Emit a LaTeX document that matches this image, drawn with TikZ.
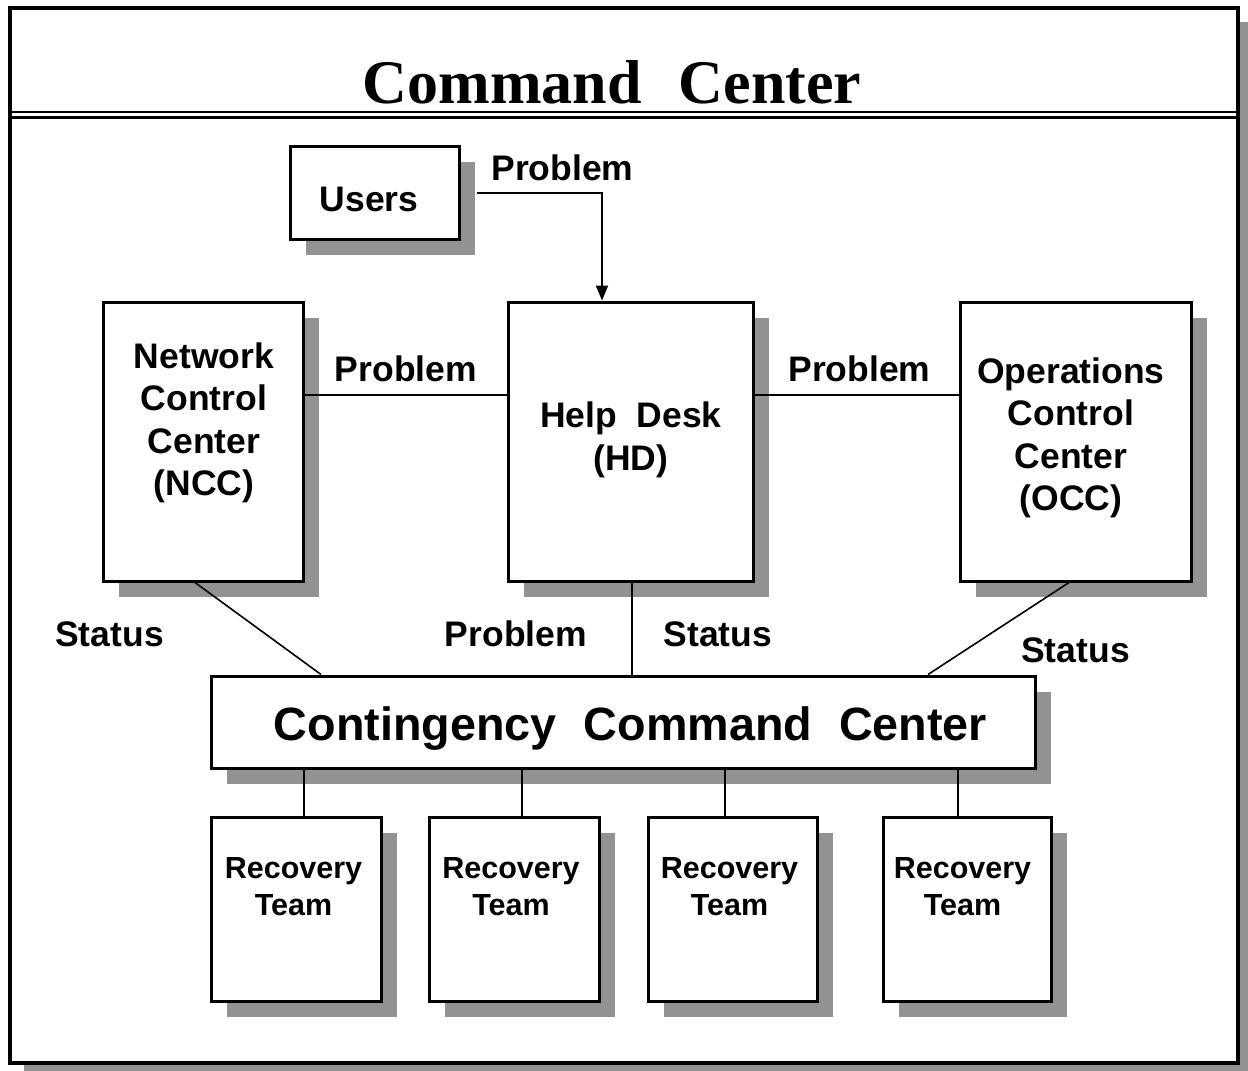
\documentclass[tikz,border=0pt]{standalone}
\usepackage{fontspec}
\setmainfont{Liberation Sans}
\newfontfamily\titlefont{Liberation Serif}
\usetikzlibrary{shadows,fit,arrows.meta}
\definecolor{shadowgray}{RGB}{146,146,146}
\begin{document}
\begin{tikzpicture}[x=1pt,y=-1pt,
  box/.style={draw, line width=3pt, fill=white, inner sep=0pt,
    drop shadow={shadow xshift=16pt, shadow yshift=-16pt, fill=shadowgray, opacity=1}},
  lbl/.style={font=\bfseries\fontsize{35.5}{42.5}\selectfont, inner sep=0pt, align=center},
  rtlbl/.style={font=\bfseries\fontsize{30.5}{37}\selectfont, inner sep=0pt, align=center},
  conn/.style={line width=2pt},
  diag/.style={line width=1.6pt}]
\useasboundingbox (0,0) rectangle (1248,1071);
% frame
\fill[shadowgray] (24,22) rectangle (1248,1071);
\draw[line width=3.5pt, fill=white] (10,8) rectangle (1238,1063);
\draw[line width=1.5pt] (10,112) -- (1238,112);
\draw[line width=3pt] (10,117) -- (1238,117);
\node[anchor=base, inner sep=0pt, font=\titlefont\bfseries\fontsize{62}{70}\selectfont] (title) at (612,103) {Command\hspace{0.6em}Center};
% boxes
\node[box, fit={(290,146) (459,239)}] (users) {};
\node[box, fit={(103,302) (303,581)}] (ncc) {};
\node[box, fit={(508,302) (753,581)}] (hd) {};
\node[box, fit={(960,302) (1191,581)}] (occ) {};
\node[box, fit={(211,676) (1035,768)}] (ccc) {};
\node[box, fit={(211,817) (381,1001)}] (rt1) {};
\node[box, fit={(429,817) (599,1001)}] (rt2) {};
\node[box, fit={(648,817) (817,1001)}] (rt3) {};
\node[box, fit={(883,817) (1051,1001)}] (rt4) {};
% box texts
\node[lbl, anchor=base] (usersT) at (369,211) {Users};
\node[lbl] (nccT) at (204,423) {Network\\Control\\Center\\(NCC)};
\node[lbl] (hdT) at (631,440) {Help~~Desk\\(HD)};
\node[lbl] (occT) at (1071,438) {Operations\\Control\\Center\\(OCC)};
\node[anchor=base, inner sep=0pt, font=\bfseries\fontsize{46.7}{52}\selectfont] (cccT) at (630.5,740) {Contingency\hspace{0.58em}Command\hspace{0.58em}Center};
\node[rtlbl] (rt1T) at (293.5,887) {Recovery\\Team};
\node[rtlbl] (rt2T) at (511,887) {Recovery\\Team};
\node[rtlbl] (rt3T) at (729.5,887) {Recovery\\Team};
\node[rtlbl] (rt4T) at (962.5,887) {Recovery\\Team};
% connectors
\coordinate (prow) at (0,395);
\draw[conn, -{Triangle[length=15pt,width=12pt]}] ([xshift=16pt]users.east) -| ([xshift=-28.5pt]hd.north);
\draw[conn] (ncc.east |- prow) -- (hd.west |- prow);
\draw[conn] (hd.east |- prow) -- (occ.west |- prow);
\draw[diag] ([xshift=-8pt]ncc.south) -- ([xshift=-302pt]ccc.north);
\draw[conn] ([xshift=1.5pt]hd.south) -- ([xshift=1.5pt]hd.south |- ccc.north);
\draw[diag] ([xshift=-6.5pt]occ.south) -- ([xshift=305pt]ccc.north);
\draw[conn] ([xshift=8pt]rt1.north) -- ([xshift=8pt]rt1.north |- ccc.south);
\draw[conn] ([xshift=8pt]rt2.north) -- ([xshift=8pt]rt2.north |- ccc.south);
\draw[conn] ([xshift=-7.5pt]rt3.north) -- ([xshift=-7.5pt]rt3.north |- ccc.south);
\draw[conn] ([xshift=-9pt]rt4.north) -- ([xshift=-9pt]rt4.north |- ccc.south);
% connector labels
\node[lbl, anchor=base] (pTop) at (562.5,180) {Problem};
\node[lbl, anchor=base] (pLeft) at (406,381) {Problem};
\node[lbl, anchor=base] (pRight) at (859.5,381) {Problem};
\node[lbl, anchor=base] (sLeft) at (109.5,646) {Status};
\node[lbl, anchor=base] (pBottom) at (516,646) {Problem};
\node[lbl, anchor=base] (sMid) at (718,646) {Status};
\node[lbl, anchor=base] (sRight) at (1075.5,662) {Status};
\end{tikzpicture}
\end{document}
